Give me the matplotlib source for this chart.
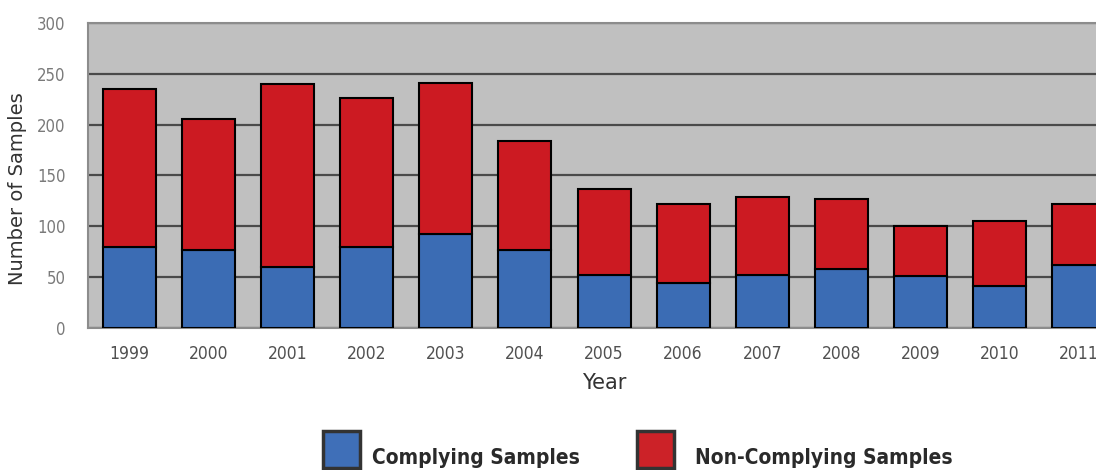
import matplotlib.pyplot as plt
from matplotlib.patches import Rectangle
from matplotlib import font_manager

# sample counts per year
years = ["1999", "2000", "2001", "2002", "2003", "2004", "2005",
         "2006", "2007", "2008", "2009", "2010", "2011"]
complying = [80, 77, 60, 80, 92, 77, 52, 44, 52, 58, 51, 41, 62]
non_complying = [155, 129, 180, 146, 149, 107, 85, 78, 77, 69, 49, 64, 60]

blue = "#3b6cb4"
red = "#cc1a22"

# narrow bold font for the legend if there is one
names = {f.name for f in font_manager.fontManager.ttflist}
if "Liberation Sans Narrow" in names:
    leg_font = dict(family="Liberation Sans Narrow", weight="bold", size=19)
else:
    leg_font = dict(family="DejaVu Sans", stretch="condensed", weight="bold", size=15)

W, H = 1096, 470
fig = plt.figure(figsize=(W / 100, H / 100), dpi=100)
ax = fig.add_axes([88 / W, 1 - 328 / H, 1 - 88 / W, (328 - 23) / H])
ax.set_facecolor("#c0c0c0")

x = list(range(len(years)))
ax.bar(x, complying, width=0.67, color=blue, edgecolor="black", linewidth=1.5, zorder=3)
ax.bar(x, non_complying, width=0.67, bottom=complying, color=red,
       edgecolor="black", linewidth=1.5, zorder=3)

ax.set_xlim(-0.525, 12.22)
ax.set_ylim(0, 300)
ax.set_yticks(range(0, 301, 50))
ax.set_xticks(x)
ax.set_xticklabels(years)
ax.yaxis.grid(True, color="#4a4a4a", linewidth=1.6, zorder=1)
ax.set_axisbelow(True)

for side in ["top", "right", "left", "bottom"]:
    ax.spines[side].set_color("#8c8c8c")
    ax.spines[side].set_linewidth(1.5)
ax.spines["right"].set_visible(False)

ax.tick_params(axis="both", length=0)
ax.tick_params(axis="y", pad=16, labelsize=12, labelcolor="#7a7a7a")
ax.tick_params(axis="x", pad=12, labelsize=12.5, labelcolor="#505050")
for lab in ax.get_xticklabels() + ax.get_yticklabels():
    lab.set_fontstretch("condensed")

ax.set_xlabel("Year", fontsize=15, color="#333333")
ax.xaxis.set_label_coords(0.512, -0.148)
ax.set_ylabel("Number of Samples", fontsize=14, color="#333333")
ax.yaxis.set_label_coords(-0.0605, 0.456)

# legend drawn straight onto the figure
for x0, col, txt, tx in [(323, "#3f6fb8", "Complying Samples", 372),
                         (637, "#cc2228", "Non-Complying Samples", 695)]:
    fig.patches.append(Rectangle((x0 / W, 2 / H), 37 / W, 37 / H,
                                 transform=fig.transFigure, facecolor=col,
                                 edgecolor="#333333", linewidth=2.5))
    fig.text(tx / W, 6 / H, txt, color="#2a2a2a", ha="left", va="baseline", **leg_font)

fig.savefig("out.png", dpi=100)
